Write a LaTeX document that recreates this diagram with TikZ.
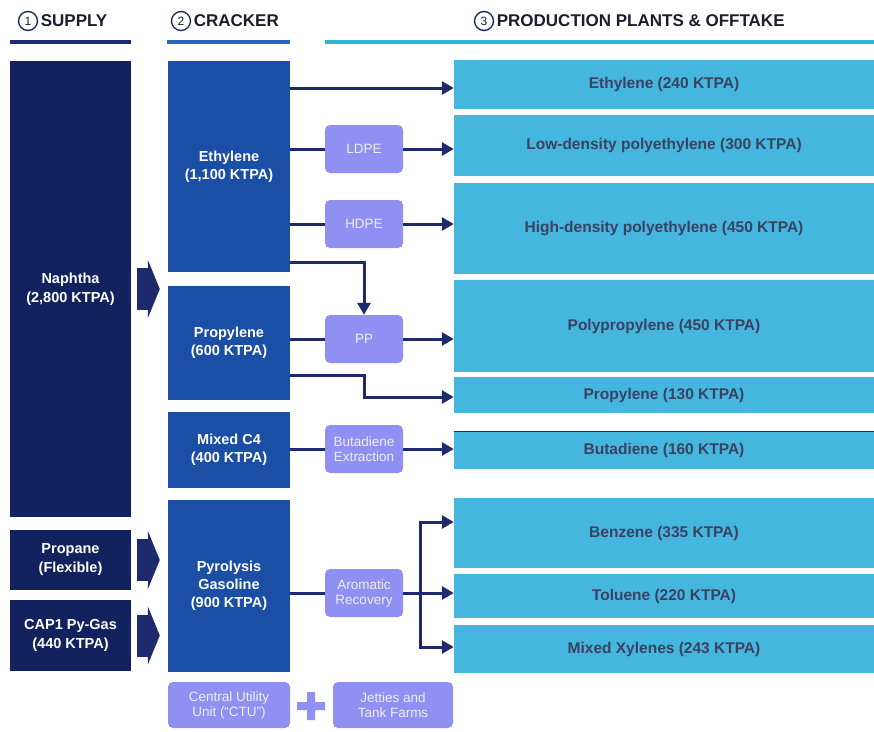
\documentclass[tikz,border=0pt]{standalone}
\usepackage{fontspec}
\setmainfont{Liberation Sans}
\usepackage{xcolor}
\usetikzlibrary{positioning,arrows.meta}

\definecolor{navy}{HTML}{12225E}
\definecolor{crackblue}{HTML}{1A4FA5}
\definecolor{lavender}{HTML}{9090F2}
\definecolor{lavtext}{HTML}{EEEEFF}
\definecolor{offcyan}{HTML}{45B6DE}
\definecolor{offtext}{HTML}{3B4160}
\definecolor{flowc}{HTML}{1F2A6C}
\definecolor{headtextc}{HTML}{1C1C30}
\definecolor{supplyline}{HTML}{1B2B6E}
\definecolor{crackline}{HTML}{2467BD}
\definecolor{offline}{HTML}{2DB7D3}

\begin{document}
\begin{tikzpicture}[x=1pt,y=-1pt,>={Triangle[length=12pt,width=13pt]},
  supplybox/.style={fill=navy,text=white,minimum width=121pt,inner sep=0pt,align=center,
    font=\bfseries\fontsize{14.5}{19}\selectfont},
  crackbox/.style={fill=crackblue,text=white,minimum width=122pt,inner sep=0pt,align=center,
    font=\bfseries\fontsize{14.5}{18}\selectfont},
  unitbox/.style={fill=lavender,text=lavtext,rounded corners=5pt,minimum width=78pt,
    minimum height=48pt,inner sep=0pt,align=center,font=\fontsize{13.5}{15}\selectfont},
  offbox/.style={fill=offcyan,text=offtext,minimum width=420pt,inner sep=0pt,align=center,
    font=\bfseries\fontsize{15.5}{18}\selectfont},
  flow/.style={->,draw=flowc,line width=3pt},
  feed/.style={draw=flowc,line width=42pt,-{Triangle[length=12pt,width=58pt]}},
  numcirc/.style={circle,draw=navy,line width=1.3pt,minimum size=19pt,inner sep=0pt,
    text=headtextc,font=\fontsize{12}{12}\selectfont},
  headtext/.style={inner sep=0pt,text=headtextc,font=\bfseries\fontsize{17}{17}\selectfont}]
\useasboundingbox (0,0) rectangle (874,731);

% headers
\node[numcirc] (n1) at (28,21) {1};
\node[headtext,right=2.5pt of n1] (h1) {SUPPLY};
\node[numcirc] (n2) at (181,21) {2};
\node[headtext,right=2.5pt of n2] (h2) {CRACKER};
\node[numcirc] (n3) at (484,21) {3};
\node[headtext,right=2.5pt of n3] (h3) {PRODUCTION PLANTS \& OFFTAKE};
\draw[supplyline,line width=3.5pt] (10,42) -- (131,42);
\draw[crackline,line width=3.5pt] (167,42) -- (290,42);
\draw[offline,line width=3.5pt] (325,42) -- (874,42);

% supply
\node[supplybox,minimum height=456pt] (naphtha) at (70.5,289) {Naphtha\\(2,800 KTPA)};
\node[supplybox,minimum height=60pt] (propane) at (70.5,560) {Propane\\(Flexible)};
\node[supplybox,minimum height=71pt] (cap1) at (70.5,635.5) {CAP1 Py-Gas\\(440 KTPA)};

% cracker
\node[crackbox,minimum height=211pt] (ethylene) at (229,166.5) {Ethylene\\(1,100 KTPA)};
\node[crackbox,minimum height=114pt] (propylene) at (229,343) {Propylene\\(600 KTPA)};
\node[crackbox,minimum height=76pt] (mixedc4) at (229,450) {Mixed C4\\(400 KTPA)};
\node[crackbox,minimum height=172pt] (pygas) at (229,586) {Pyrolysis\\Gasoline\\(900 KTPA)};

% units
\node[unitbox] (ldpe) at (364,149) {LDPE};
\node[unitbox] (hdpe) at (364,224) {HDPE};
\node[unitbox] (pp) at (364,339) {PP};
\node[unitbox] (butext) at (364,449) {Butadiene\\Extraction};
\node[unitbox] (arom) at (364,593) {Aromatic\\Recovery};
\node[unitbox,minimum width=122pt,minimum height=46pt] (ctu) at (229,705) {Central Utility\\Unit (“CTU”)};
\node[unitbox,minimum width=120pt,minimum height=46pt] (jetties) at (393,705) {Jetties and\\Tank Farms};
\fill[lavender] (311,706) +(-14,-4) rectangle +(14,4) +(-4,-14) rectangle +(4,14);

% offtake
\node[offbox,minimum height=49pt] (eth240) at (664,84.5) {Ethylene (240 KTPA)};
\node[offbox,minimum height=61pt] (ldpeout) at (664,145.5) {Low-density polyethylene (300 KTPA)};
\node[offbox,minimum height=91pt] (hdpeout) at (664,228.5) {High-density polyethylene (450 KTPA)};
\node[offbox,minimum height=92pt] (ppout) at (664,326) {Polypropylene (450 KTPA)};
\node[offbox,minimum height=36pt] (prop130) at (664,395) {Propylene (130 KTPA)};
\node[offbox,minimum height=37pt] (butadiene) at (664,450.5) {Butadiene (160 KTPA)};
\node[offbox,minimum height=70pt] (benzene) at (664,533) {Benzene (335 KTPA)};
\node[offbox,minimum height=44pt] (toluene) at (664,596) {Toluene (220 KTPA)};
\node[offbox,minimum height=48pt] (xylenes) at (664,649) {Mixed Xylenes (243 KTPA)};
\draw[flowc,line width=1.2pt] (butadiene.north west) -- (butadiene.north east);

% feed arrows
\draw[feed] ([xshift=6pt]naphtha.east) -- ([xshift=-8pt]ethylene.west |- naphtha.east);
\draw[feed] ([xshift=6pt]propane.east) -- ([xshift=-8pt]pygas.west |- propane.east);
\draw[feed] ([xshift=6pt]cap1.east) -- ([xshift=-8pt]pygas.west |- cap1.east);

% flows
\draw[flow] ([yshift=-3.5pt]ethylene.east |- eth240.west) -- ([yshift=-3.5pt]eth240.west);
\draw[flowc,line width=3pt] (ethylene.east |- ldpe) -- (ldpe);
\draw[flow] (ldpe) -- (ldpeout.west |- ldpe);
\draw[flowc,line width=3pt] (ethylene.east |- hdpe) -- (hdpe);
\draw[flow] (hdpe) -- (hdpeout.west |- hdpe);
\draw[flow] ([yshift=10pt]ethylene.south east) -| (pp.north);
\draw[flowc,line width=3pt] (propylene.east |- pp) -- (pp);
\draw[flow] (pp) -- (ppout.west |- pp);
\draw[flow] ([yshift=25pt]propylene.south east) -| ([yshift=-2pt]pp.south |- prop130.west) -- ([yshift=-2pt]prop130.west);
\draw[flowc,line width=3pt] (mixedc4.east |- butext) -- (butext);
\draw[flow] (butext) -- (butadiene.west |- butext);
\draw[flowc,line width=3pt] (pygas.east |- arom) -- (arom);
\draw[flow] (arom) -- (toluene.west |- arom);
\coordinate (split) at ([xshift=17pt]arom.east);
\draw[flow] (split) |- ([yshift=11pt]benzene.west);
\draw[flow] (split) |- ([yshift=2pt]xylenes.west);
\end{tikzpicture}
\end{document}
